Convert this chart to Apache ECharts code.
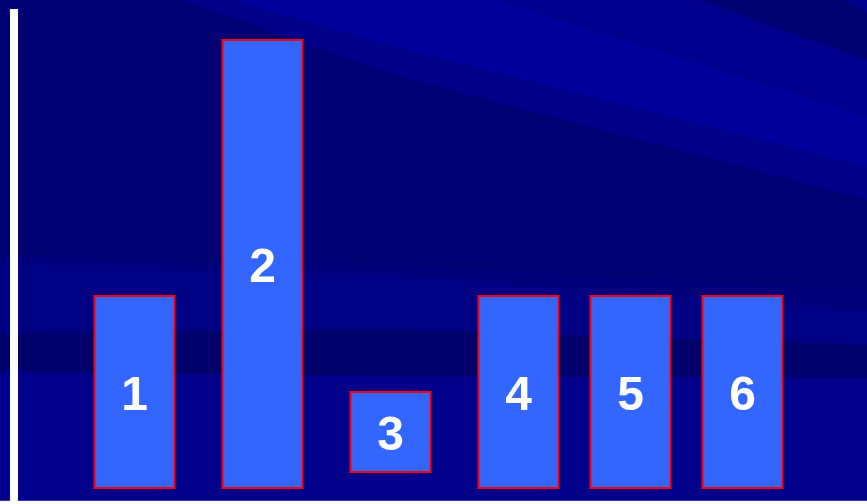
<!DOCTYPE html>
<html>
<head>
<meta charset="utf-8">
<script src="https://cdn.jsdelivr.net/npm/echarts@6/dist/echarts.min.js"></script>
<style>
  html, body { margin: 0; padding: 0; background: #000078; }
  #chart { width: 867px; height: 504px; }
</style>
</head>
<body>
<div id="chart"></div>
<script>
// bar labels, horizontal centre of each bar, and bottom/top values
const labels = ['1', '2', '3', '4', '5', '6'];
const xPos = [8, 16, 24, 32, 39, 46];
const lows = [0, 0, 1, 0, 0, 0];
const highs = [12, 28, 6, 12, 12, 12];

const data = labels.map((l, i) => [xPos[i], lows[i], highs[i], l]);

const chart = echarts.init(document.getElementById('chart'));

// background waves (decoration only)
const bg = [
  { pts: [[0, 0], [867, 0], [867, 504], [0, 504]], fill: '#00007a' },
  { pts: [[0, 0], [250, 0], [400, 60], [867, 190], [867, 290], [400, 265], [0, 255]], fill: '#000072' },
  { pts: [[497, 0], [700, 0], [867, 60], [867, 117]], fill: '#00008e' },
  { pts: [[700, 0], [843, 0], [867, 12], [867, 60]], fill: '#000070' },
  { pts: [[843, 0], [867, 0], [867, 12]], fill: '#000090' },
  { pts: [[230, 0], [497, 0], [867, 117], [867, 167], [400, 48]], fill: '#00009c' },
  { pts: [[180, 0], [230, 0], [400, 48], [867, 167], [867, 200], [400, 77]], fill: '#000088' },
  { pts: [[0, 262], [400, 275], [867, 310], [867, 345], [400, 330], [0, 333]], fill: '#000082' },
  { pts: [[0, 333], [400, 330], [867, 345], [867, 378], [400, 376], [0, 372]], fill: '#00006a' },
  { pts: [[0, 372], [400, 376], [867, 378], [867, 504], [0, 504]], fill: '#00008a' }
];

const graphic = bg.map(b => ({
  type: 'polygon', z: -10, silent: true,
  shape: { points: b.pts },
  style: { fill: b.fill }
}));
graphic.push({ type: 'rect', z: -5, silent: true, shape: { x: 0, y: 500, width: 867, height: 1 }, style: { fill: '#3030b0' } });
graphic.push({ type: 'rect', z: -5, silent: true, shape: { x: 0, y: 501, width: 867, height: 3 }, style: { fill: '#ffffff' } });
graphic.push({ type: 'rect', z: 5, silent: true, shape: { x: 10, y: 9, width: 8, height: 495 }, style: { fill: '#ffffff' } });

chart.setOption({
  backgroundColor: 'transparent',
  animation: false,
  graphic: graphic,
  grid: { left: 6.5, width: 860, top: 8, bottom: 16, outerBoundsMode: 'none' },
  xAxis: { type: 'value', min: 0, max: 53.75, show: false },
  yAxis: { type: 'value', min: 0, max: 30, show: false },
  series: [{
    type: 'custom',
    data: data,
    renderItem: function (params, api) {
      const x = api.value(0), lo = api.value(1), hi = api.value(2);
      const p1 = api.coord([x - 2.5, hi]);
      const p2 = api.coord([x + 2.5, lo]);
      const mid = api.coord([x, (lo + hi) / 2]);
      return {
        type: 'group',
        children: [{
          type: 'rect',
          shape: { x: p1[0], y: p1[1], width: p2[0] - p1[0], height: p2[1] - p1[1] },
          style: { fill: '#3366ff', stroke: '#ff0000', lineWidth: 2 }
        }, {
          type: 'text',
          x: mid[0], y: mid[1] + 5,
          style: {
            text: labels[params.dataIndex],
            fill: '#ffffff',
            font: 'bold 48px "Liberation Sans", Arial, sans-serif',
            align: 'center', verticalAlign: 'middle'
          }
        }]
      };
    }
  }]
});
</script>
</body>
</html>
